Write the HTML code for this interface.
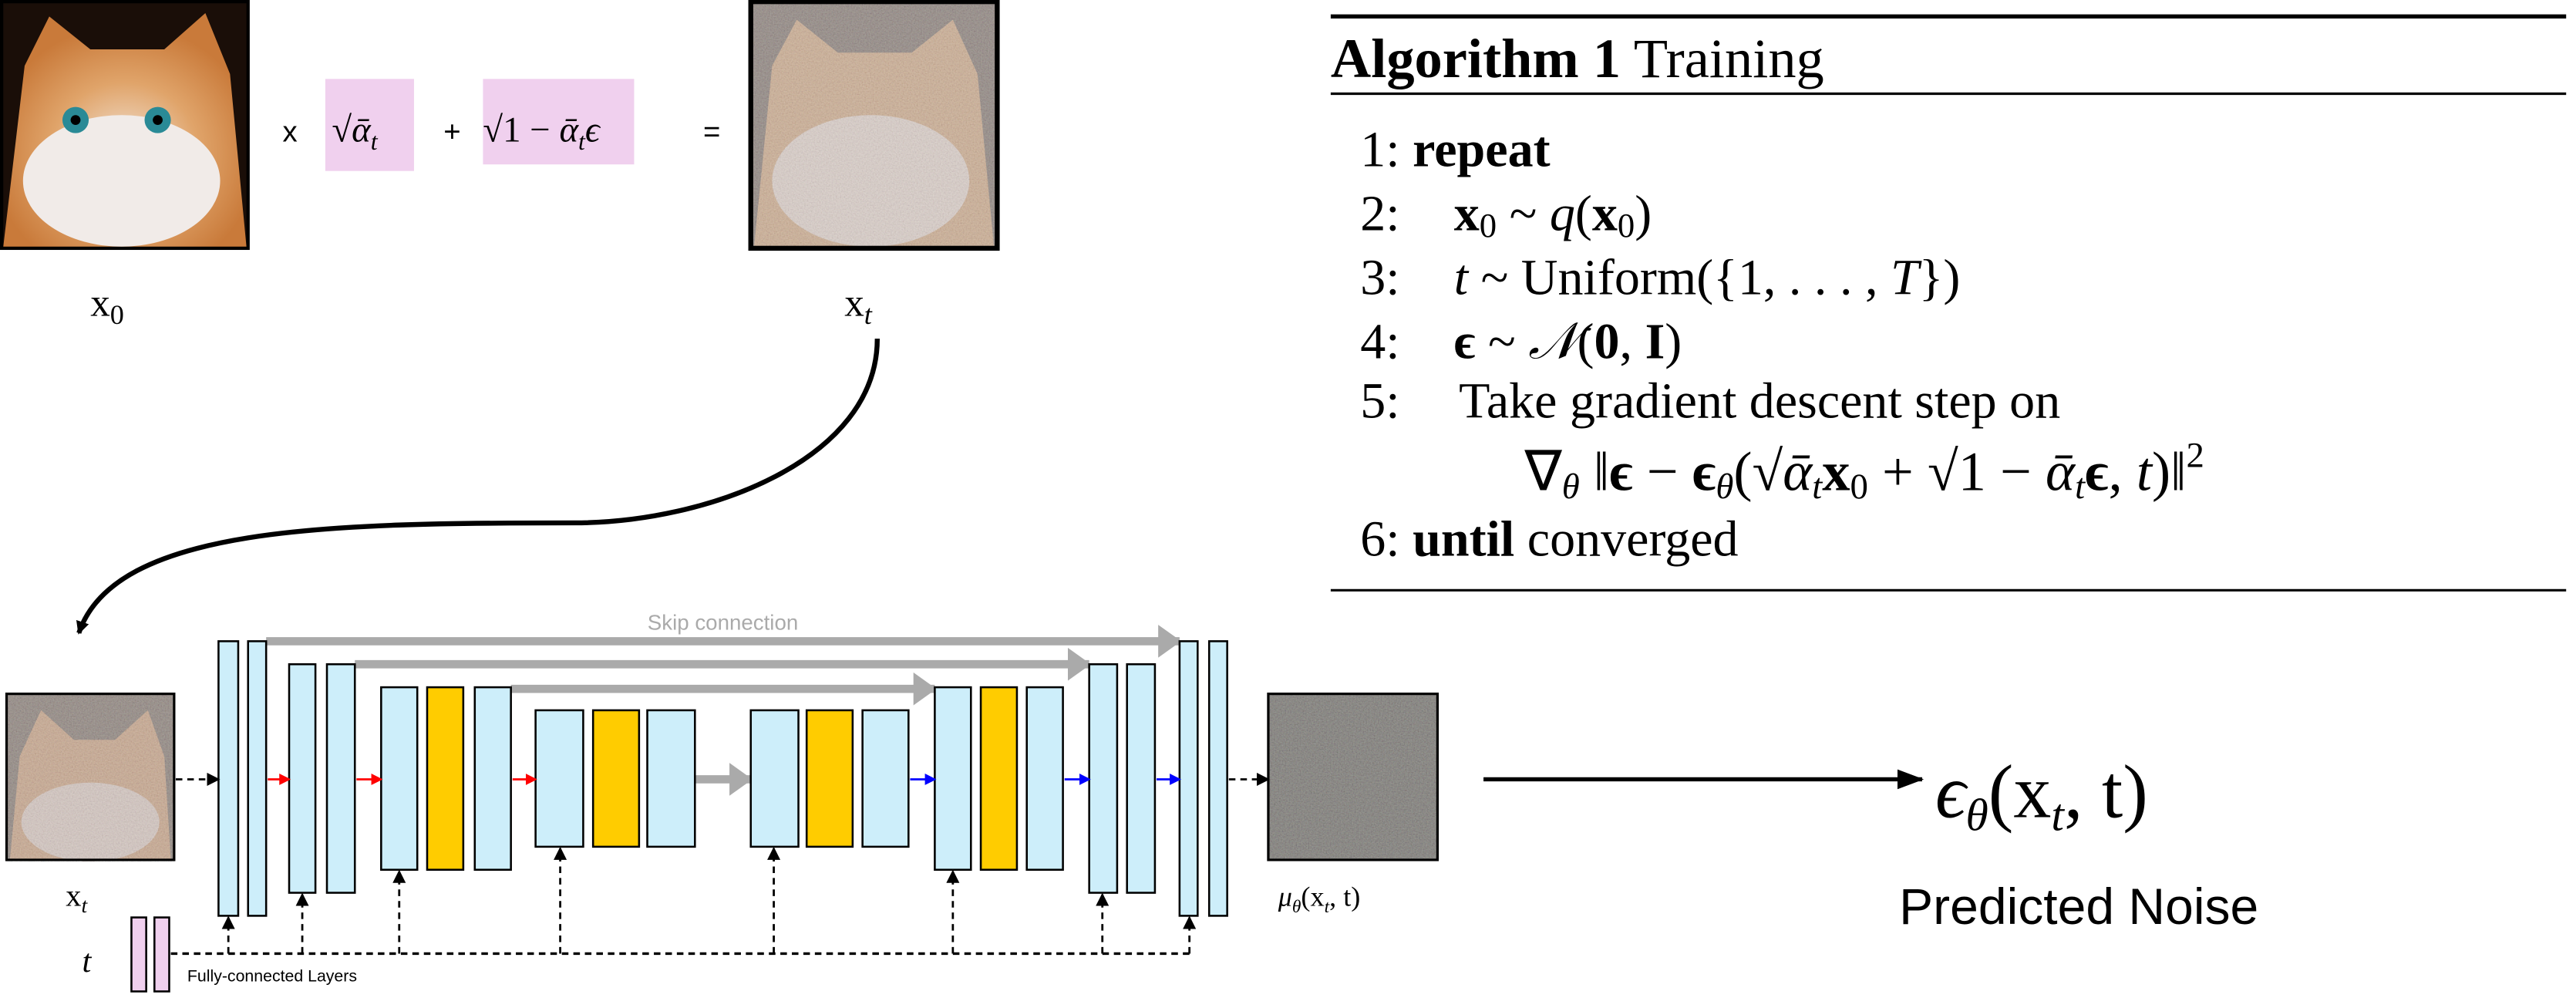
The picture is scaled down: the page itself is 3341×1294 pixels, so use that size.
<!DOCTYPE html>
<html><head><meta charset="utf-8"><style>
html,body{margin:0;padding:0;background:#fff;width:3341px;height:1294px;overflow:hidden}
svg{display:block}
</style></head><body>
<svg width="3341" height="1294" viewBox="0 0 1568 607" preserveAspectRatio="none" xmlns="http://www.w3.org/2000/svg">
<defs>
<filter id="noise" x="0" y="0" width="100%" height="100%">
<feTurbulence type="fractalNoise" baseFrequency="1.2" numOctaves="2" seed="3" result="n"/>
<feColorMatrix in="n" type="saturate" values="0.3" result="g"/>
<feComposite in="g" in2="SourceGraphic" operator="arithmetic" k1="0" k2="0.35" k3="0.75" k4="-0.1"/>
</filter>
<radialGradient id="face" cx="50%" cy="60%" r="55%"><stop offset="0" stop-color="#f3e6da"/><stop offset="0.55" stop-color="#e0a46a"/><stop offset="1" stop-color="#c97a3a"/></radialGradient>
<marker id="ab" markerWidth="8" markerHeight="8" refX="7" refY="4" orient="auto" markerUnits="userSpaceOnUse"><path d="M0,0 L8,4 L0,8 z" fill="#000"/></marker>
<marker id="ar" markerWidth="7" markerHeight="7" refX="6" refY="3.5" orient="auto" markerUnits="userSpaceOnUse"><path d="M0,0 L7,3.5 L0,7 z" fill="#f00"/></marker>
<marker id="abl" markerWidth="7" markerHeight="7" refX="6" refY="3.5" orient="auto" markerUnits="userSpaceOnUse"><path d="M0,0 L7,3.5 L0,7 z" fill="#00f"/></marker>
<marker id="ag" markerWidth="14" markerHeight="20" refX="13" refY="10" orient="auto" markerUnits="userSpaceOnUse"><path d="M0,0 L14,10 L0,20 z" fill="#aaa"/></marker>
<marker id="big" markerWidth="16" markerHeight="12" refX="15" refY="6" orient="auto" markerUnits="userSpaceOnUse"><path d="M0,0 L16,6 L0,12 z" fill="#000"/></marker>
</defs>

<!-- x0 cat -->
<rect x="1" y="1" width="150" height="150" fill="#1a0e08" stroke="#000" stroke-width="2"/>
<path d="M15,40 L30,10 L55,30 L100,30 L125,8 L140,45 L150,150 L2,150 z" fill="url(#face)"/>
<ellipse cx="74" cy="110" rx="60" ry="40" fill="#f1ebe8"/>
<circle cx="46" cy="73" r="8" fill="#2a8a96"/><circle cx="96" cy="73" r="8" fill="#2a8a96"/>
<circle cx="46" cy="73" r="3" fill="#000"/><circle cx="96" cy="73" r="3" fill="#000"/>
<text x="55" y="192" font-family="Liberation Serif, serif" font-size="24">x<tspan font-size="17" dy="5">0</tspan></text>

<text x="172" y="86" font-family="Liberation Sans, sans-serif" font-size="18">x</text>
<rect x="198" y="48" width="54" height="56" fill="#f0d0ee"/>
<text x="202" y="86" font-family="Liberation Serif, serif" font-size="22">√<tspan font-style="italic">ᾱ</tspan><tspan font-size="15" font-style="italic" dy="5">t</tspan></text>
<text x="270" y="86" font-family="Liberation Sans, sans-serif" font-size="18">+</text>
<rect x="294" y="48" width="92" height="52" fill="#f0d0ee"/>
<text x="294" y="86" font-family="Liberation Serif, serif" font-size="22">√1 − <tspan font-style="italic">ᾱ</tspan><tspan font-size="15" font-style="italic" dy="5">t</tspan><tspan dy="-5" font-style="italic">ϵ</tspan></text>
<text x="428" y="86" font-family="Liberation Sans, sans-serif" font-size="18">=</text>

<!-- xt cat -->
<g filter="url(#noise)">
<rect x="457" y="1" width="150" height="150" fill="#8f8580"/>
<path d="M470,40 L485,12 L510,32 L555,32 L580,12 L595,45 L605,150 L459,150 z" fill="#c8aa90"/>
<ellipse cx="530" cy="110" rx="60" ry="40" fill="#d6cac4"/>
</g>
<rect x="457" y="1" width="150" height="150" fill="none" stroke="#000" stroke-width="3"/>
<text x="514" y="192" font-family="Liberation Serif, serif" font-size="24">x<tspan font-size="17" font-style="italic" dy="5">t</tspan></text>

<path d="M534,206 C534,280 430,318 350,318 C200,318 70,320 48,385" fill="none" stroke="#000" stroke-width="3" marker-end="url(#ab)"/>

<!-- Algorithm -->
<g font-family="Liberation Serif, serif" font-size="31">
<line x1="810" y1="10" x2="1562" y2="10" stroke="#000" stroke-width="2.5"/>
<text x="810" y="47" font-size="34"><tspan font-weight="bold">Algorithm 1</tspan> Training</text>
<line x1="810" y1="57" x2="1562" y2="57" stroke="#000" stroke-width="1.5"/>
<text x="828" y="101">1:  <tspan font-weight="bold">repeat</tspan></text>
<text x="828" y="140">2:<tspan x="885" font-weight="bold">x</tspan><tspan font-size="21" dy="4">0</tspan><tspan dy="-4"> ~ </tspan><tspan font-style="italic">q</tspan>(<tspan font-weight="bold">x</tspan><tspan font-size="21" dy="4">0</tspan><tspan dy="-4">)</tspan></text>
<text x="828" y="179">3:<tspan x="885" font-style="italic">t</tspan> ~ Uniform({1, . . . , <tspan font-style="italic">T</tspan>})</text>
<text x="828" y="218">4:<tspan x="885" font-weight="bold">ϵ</tspan> ~ <tspan font-style="italic">𝒩</tspan>(<tspan font-weight="bold">0</tspan>, <tspan font-weight="bold">I</tspan>)</text>
<text x="828" y="254">5:<tspan x="888">Take gradient descent step on</tspan></text>
<text x="928" y="298" font-size="34">∇<tspan font-size="22" font-style="italic" dy="5">θ</tspan><tspan dy="-5"> ‖</tspan><tspan font-weight="bold">ϵ</tspan> − <tspan font-weight="bold">ϵ</tspan><tspan font-size="22" font-style="italic" dy="5">θ</tspan><tspan dy="-5">(√</tspan><tspan font-style="italic">ᾱ</tspan><tspan font-size="22" font-style="italic" dy="5">t</tspan><tspan dy="-5" font-weight="bold">x</tspan><tspan font-size="22" dy="5">0</tspan><tspan dy="-5"> + √1 − </tspan><tspan font-style="italic">ᾱ</tspan><tspan font-size="22" font-style="italic" dy="5">t</tspan><tspan dy="-5" font-weight="bold">ϵ</tspan>, <tspan font-style="italic">t</tspan>)‖<tspan font-size="22" dy="-14">2</tspan></text>
<text x="828" y="338">6:  <tspan font-weight="bold">until</tspan> converged</text>
<line x1="810" y1="359" x2="1562" y2="359" stroke="#000" stroke-width="1.5"/>
</g>

<!-- U-Net -->
<g filter="url(#noise)">
<rect x="4" y="422" width="102" height="101" fill="#8f857f"/>
<path d="M12,460 L25,432 L45,450 L70,450 L90,432 L100,460 L104,523 L6,523 z" fill="#c4a48c"/>
<ellipse cx="55" cy="500" rx="42" ry="24" fill="#d0c2bc"/>
</g>
<rect x="772" y="422" width="103" height="101" fill="#7c7a76" filter="url(#noise)"/>
<rect x="4" y="422" width="102" height="101" fill="none" stroke="#000" stroke-width="1.5"/>
<rect x="772" y="422" width="103" height="101" fill="none" stroke="#000" stroke-width="1.5"/>

<text x="440" y="383" text-anchor="middle" font-family="Liberation Sans, sans-serif" font-size="13" fill="#aaa">Skip connection</text>
<g stroke="#aaa" stroke-width="5" fill="none">
<line x1="162" y1="390" x2="718" y2="390" marker-end="url(#ag)"/>
<line x1="216" y1="404" x2="663" y2="404" marker-end="url(#ag)"/>
<line x1="311" y1="419" x2="569" y2="419" marker-end="url(#ag)"/>
<line x1="423" y1="474" x2="457" y2="474" marker-end="url(#ag)"/>
</g>

<g stroke="#000" stroke-width="1.2">
<g fill="#cdeefa">
<rect x="133" y="390" width="12" height="167"/><rect x="151" y="390" width="11" height="167"/>
<rect x="176" y="404" width="16" height="139"/><rect x="199" y="404" width="17" height="139"/>
<rect x="232" y="418" width="22" height="111"/><rect x="289" y="418" width="22" height="111"/>
<rect x="326" y="432" width="29" height="83"/><rect x="394" y="432" width="29" height="83"/>
<rect x="457" y="432" width="29" height="83"/><rect x="525" y="432" width="28" height="83"/>
<rect x="569" y="418" width="22" height="111"/><rect x="625" y="418" width="22" height="111"/>
<rect x="663" y="404" width="17" height="139"/><rect x="686" y="404" width="17" height="139"/>
<rect x="718" y="390" width="11" height="167"/><rect x="736" y="390" width="11" height="167"/>
</g>
<g fill="#ffcc00">
<rect x="260" y="418" width="22" height="111"/><rect x="361" y="432" width="28" height="83"/>
<rect x="491" y="432" width="28" height="83"/><rect x="597" y="418" width="22" height="111"/>
</g>
<g fill="#f0d0ee"><rect x="80" y="558" width="9" height="45"/><rect x="94" y="558" width="9" height="45"/></g>
</g>

<g stroke="#f00" stroke-width="1.3"><line x1="163" y1="474" x2="176" y2="474" marker-end="url(#ar)"/><line x1="217" y1="474" x2="232" y2="474" marker-end="url(#ar)"/><line x1="312" y1="474" x2="326" y2="474" marker-end="url(#ar)"/></g>
<g stroke="#00f" stroke-width="1.3"><line x1="554" y1="474" x2="569" y2="474" marker-end="url(#abl)"/><line x1="648" y1="474" x2="663" y2="474" marker-end="url(#abl)"/><line x1="704" y1="474" x2="718" y2="474" marker-end="url(#abl)"/></g>
<g stroke="#000" stroke-width="1.3" stroke-dasharray="4,3" fill="none">
<line x1="107" y1="474" x2="133" y2="474" marker-end="url(#ab)"/>
<line x1="748" y1="474" x2="772" y2="474" marker-end="url(#ab)"/>
<line x1="104" y1="580" x2="727" y2="580" stroke-width="1.6"/>
<line x1="139" y1="580" x2="139" y2="558" marker-end="url(#ab)"/>
<line x1="184" y1="580" x2="184" y2="544" marker-end="url(#ab)"/>
<line x1="243" y1="580" x2="243" y2="530" marker-end="url(#ab)"/>
<line x1="341" y1="580" x2="341" y2="516" marker-end="url(#ab)"/>
<line x1="471" y1="580" x2="471" y2="516" marker-end="url(#ab)"/>
<line x1="580" y1="580" x2="580" y2="530" marker-end="url(#ab)"/>
<line x1="671" y1="580" x2="671" y2="544" marker-end="url(#ab)"/>
<line x1="724" y1="580" x2="724" y2="558" marker-end="url(#ab)"/>
</g>

<text x="40" y="551" font-family="Liberation Serif, serif" font-size="19">x<tspan font-size="13" font-style="italic" dy="4">t</tspan></text>
<text x="50" y="591" font-family="Liberation Serif, serif" font-size="20" font-style="italic">t</text>
<text x="114" y="597" font-family="Liberation Sans, sans-serif" font-size="10">Fully-connected Layers</text>
<text x="778" y="551" font-family="Liberation Serif, serif" font-size="17"><tspan font-style="italic">μ</tspan><tspan font-size="11" font-style="italic" dy="4">θ</tspan><tspan dy="-4">(x</tspan><tspan font-size="11" font-style="italic" dy="4">t</tspan><tspan dy="-4">, t)</tspan></text>

<line x1="903" y1="474" x2="1170" y2="474" stroke="#000" stroke-width="2.5" marker-end="url(#big)"/>
<text x="1178" y="497" font-family="Liberation Serif, serif" font-size="46"><tspan font-style="italic">ϵ</tspan><tspan font-size="28" font-style="italic" dy="8">θ</tspan><tspan dy="-8">(x</tspan><tspan font-size="28" font-style="italic" dy="8">t</tspan><tspan dy="-8">, t)</tspan></text>
<text x="1156" y="562" font-family="Liberation Sans, sans-serif" font-size="31">Predicted Noise</text>
</svg>
</body></html>
